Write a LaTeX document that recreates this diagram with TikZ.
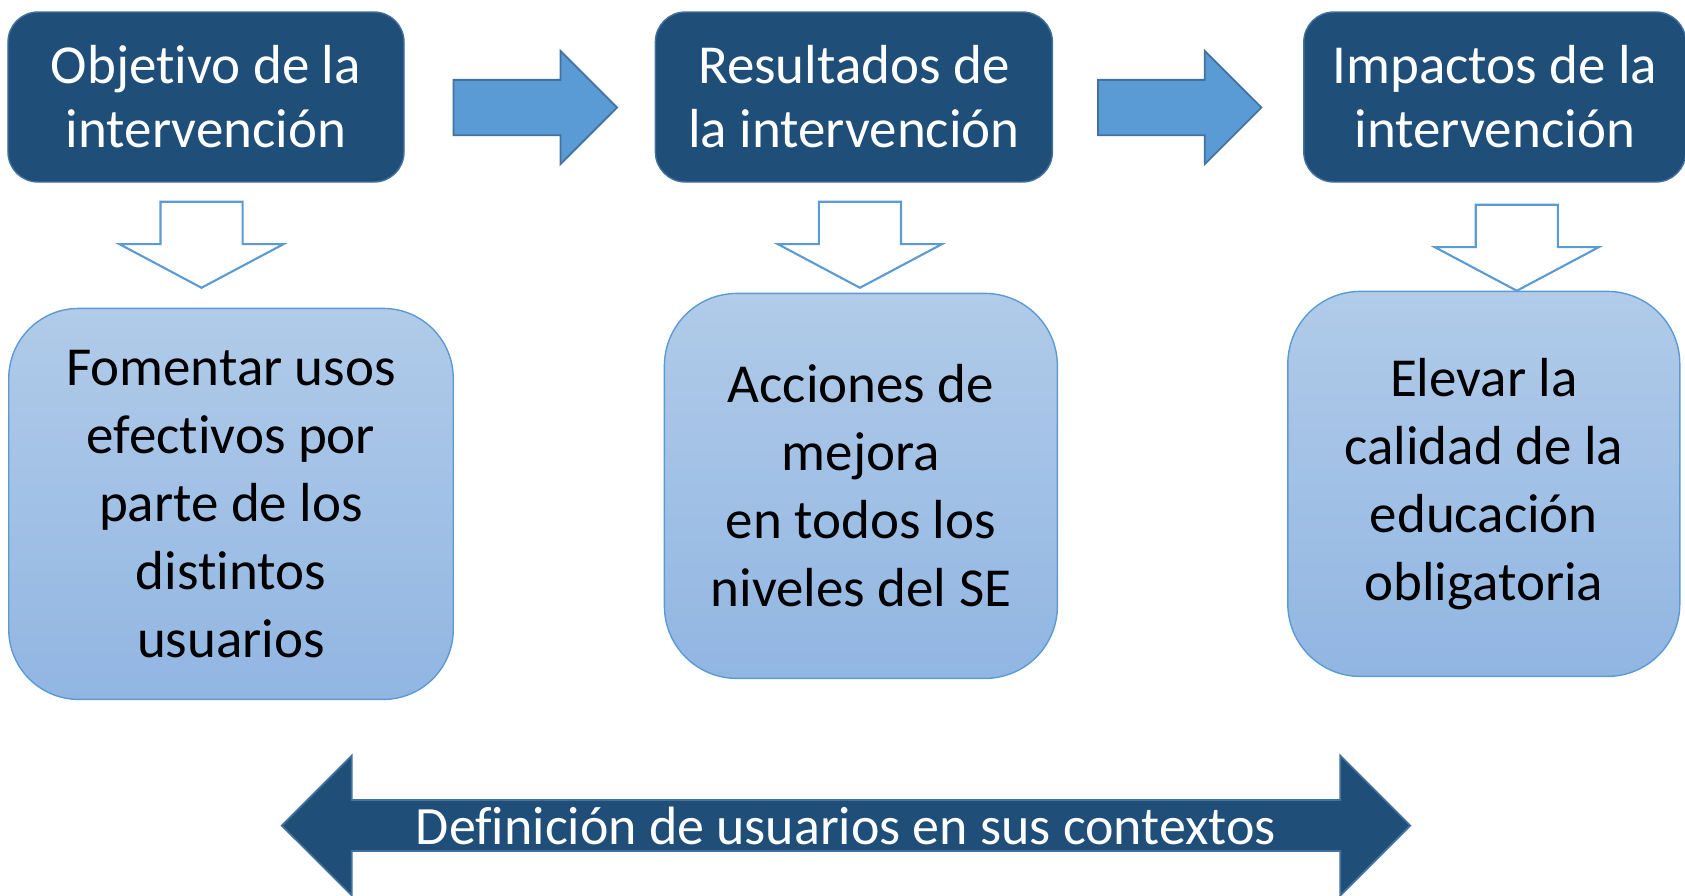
\documentclass[tikz,border=0pt]{standalone}
\usepackage{fontspec}
\setmainfont{Carlito}[Ligatures=NoCommon]
\usetikzlibrary{shapes.arrows, positioning}

\definecolor{darkblue}{HTML}{1F4E79}
\definecolor{midblue}{HTML}{5B9BD5}
\definecolor{edgeblue}{HTML}{41719C}
\definecolor{lighttop}{HTML}{B1CBE9}
\definecolor{lightbot}{HTML}{91B6E2}

\begin{document}
\begin{tikzpicture}[
        node distance=2cm and 5cm,
        topbox/.style={rectangle, draw=edgeblue, line width=0.8pt, fill=darkblue, rounded corners=0.6cm, minimum height=3.4cm, align=center, text=white, font=\fontsize{31.3}{36.4}\selectfont},
        goalbox/.style={rectangle, draw=midblue, line width=0.8pt, top color=lighttop, bottom color=lightbot, rounded corners=1.45cm, minimum height=7.7cm, align=center, font=\fontsize{31.3}{38.7}\selectfont},
        flowarrow/.style={single arrow, draw=edgeblue, line width=1pt, fill=midblue, minimum width=2.23cm, minimum height=3.27cm, single arrow head extend=0.58cm, single arrow tip angle=90, inner xsep=0pt, inner ysep=0.535cm},
        downarrow/.style={single arrow, draw=midblue, line width=1.2pt, fill=white, minimum width=3.24cm, minimum height=1.72cm, single arrow head extend=0.82cm, single arrow tip angle=124, shape border rotate=270, inner xsep=0.8cm, inner ysep=0pt},
        basearrow/.style={double arrow, draw=edgeblue, line width=1pt, fill=darkblue, minimum width=2.8cm, minimum height=22.57cm, double arrow head extend=0.69cm, double arrow tip angle=90, inner sep=0pt, text=white, font=\fontsize{30.7}{36}\selectfont}
    ]
        \useasboundingbox (0,0) rectangle (33.7,-17.92);

        % Top row
        \node[topbox, minimum width=7.92cm] (obj) at (4.12,-1.94) {Objetivo de la\\intervención};
        \node[topbox, minimum width=7.94cm, right=5cm of obj] (res) {Resultados de\\la intervención};
        \node[topbox, minimum width=7.64cm, right=5cm of res] (imp) {Impactos de la\\intervención};

        % Arrows between the top boxes
        \node[flowarrow, right=0.96cm of obj, anchor=tail, yshift=-0.21cm] (flow1) {};
        \node[flowarrow, right=0.88cm of res, anchor=tail, yshift=-0.21cm] (flow2) {};

        % Hollow arrows down
        \node[downarrow, below=0.36cm of obj, anchor=tail, xshift=-0.09cm] (down1) {};
        \node[downarrow, below=0.36cm of res, anchor=tail, xshift=0.12cm] (down2) {};
        \node[downarrow, below=0.42cm of imp, anchor=tail, xshift=0.44cm] (down3) {};

        % Lower boxes
        \node[goalbox, minimum width=8.89cm, minimum height=7.82cm, rounded corners=1.4cm, below=2.5cm of obj, xshift=0.5cm] (fom) {Fomentar usos\\efectivos por\\parte de los\\distintos\\usuarios};
        \node[goalbox, minimum width=7.86cm, below=2.2cm of res, xshift=0.14cm] (acc) {Acciones de\\mejora\\en todos los\\niveles del SE};
        \node[goalbox, minimum width=7.84cm, below=2.16cm of imp, xshift=-0.22cm] (ele) {Elevar la\\calidad de la\\educación\\obligatoria};

        % Bottom band
        \node[basearrow] (users) at (16.92,-16.51) {Definición de usuarios en sus contextos};

    \end{tikzpicture}
\end{document}
